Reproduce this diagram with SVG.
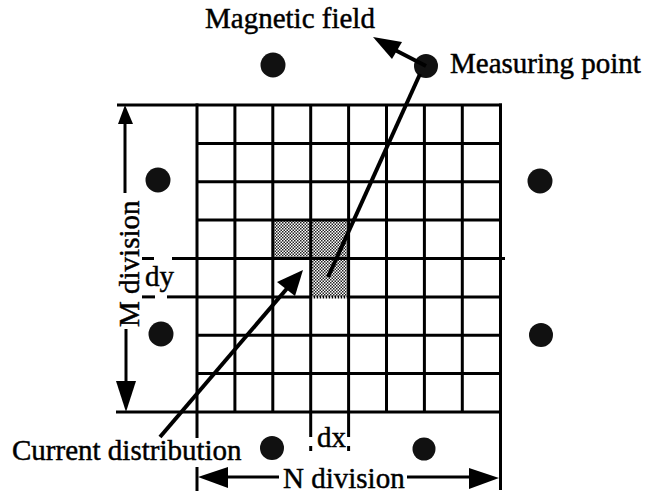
<svg xmlns="http://www.w3.org/2000/svg" width="660" height="494" viewBox="0 0 660 494">
  <style>
    .g { stroke: #000; stroke-width: 3; fill: none; stroke-linecap: butt; }
    .ln { stroke: #000; stroke-width: 3; fill: none; }
    .ar { stroke: #000; stroke-width: 4; fill: none; }
    .dot { fill: #111; }
    .head { fill: #000; }
    .t { font-family: "Liberation Serif", "Times New Roman", serif; font-size: 29px; fill: #000; stroke: #000; stroke-width: 0.45; }
  </style>
  <defs>
    <pattern id="shade" width="3" height="3" patternUnits="userSpaceOnUse">
      <rect width="3" height="3" fill="#fff"/>
      <rect width="1.5" height="1.5" fill="#222"/>
      <rect x="1.5" y="1.5" width="1.5" height="1.5" fill="#222"/>
    </pattern>
  </defs>
  <rect width="660" height="494" fill="#fff"/>

  <g id="grid">
    <rect x="273" y="220" width="37.5" height="38.5" fill="url(#shade)"/>
    <rect x="310.5" y="220" width="38" height="38.5" fill="url(#shade)"/>
    <rect x="310.5" y="258.5" width="38" height="38.5" fill="url(#shade)"/>
    <!-- horizontal lines -->
    <line class="g" x1="117" y1="105" x2="502" y2="105"/>
    <line class="g" x1="197" y1="143.4" x2="501" y2="143.4"/>
    <line class="g" x1="197" y1="181.8" x2="501" y2="181.8"/>
    <line class="g" x1="197" y1="220.1" x2="501" y2="220.1"/>
    <line class="g" x1="197" y1="258.5" x2="505" y2="258.5"/>
    <line class="g" x1="197" y1="296.9" x2="310.7" y2="296.9"/>
    <line class="g" x1="348.6" y1="296.9" x2="501" y2="296.9"/>
    <line x1="310.7" y1="296.9" x2="348.6" y2="296.9" stroke="#000" stroke-width="3" stroke-dasharray="1.5 1.5"/>
    <line class="g" x1="197" y1="335.3" x2="501" y2="335.3"/>
    <line class="g" x1="197" y1="373.6" x2="501" y2="373.6"/>
    <line class="g" x1="116" y1="412" x2="502" y2="412"/>
    <!-- vertical lines -->
    <line class="g" x1="197" y1="103.5" x2="197" y2="438"/>
    <line class="g" x1="234.9" y1="105" x2="234.9" y2="412"/>
    <line class="g" x1="272.8" y1="105" x2="272.8" y2="412"/>
    <line class="g" x1="310.7" y1="105" x2="310.7" y2="437"/>
    <line class="g" x1="348.6" y1="105" x2="348.6" y2="437"/>
    <line class="g" x1="386.5" y1="105" x2="386.5" y2="412"/>
    <line class="g" x1="424.4" y1="105" x2="424.4" y2="412"/>
    <line class="g" x1="462.3" y1="105" x2="462.3" y2="412"/>
    <line class="g" x1="500.5" y1="103.5" x2="500.5" y2="490"/>
    <!-- dx / dy dashed extensions -->
    <line class="g" x1="310.7" y1="446" x2="310.7" y2="451"/>
    <line class="g" x1="348.6" y1="446" x2="348.6" y2="451"/>
    <line class="g" x1="142" y1="258.5" x2="154" y2="258.5"/>
    <line class="g" x1="172" y1="258.5" x2="197" y2="258.5"/>
    <line class="g" x1="142" y1="296.9" x2="155" y2="296.9"/>
    <line class="g" x1="167" y1="296.9" x2="197" y2="296.9"/>
  </g>

  <g id="points">
    <circle id="p-top" class="dot" cx="273" cy="65" r="12.5"/>
    <circle id="measuring-point" class="dot" cx="426" cy="66" r="12"/>
    <circle id="p-left1" class="dot" cx="158" cy="180" r="12.5"/>
    <circle id="p-left2" class="dot" cx="161" cy="334" r="12.5"/>
    <circle id="p-right1" class="dot" cx="540" cy="181" r="12.5"/>
    <circle id="p-right2" class="dot" cx="541" cy="335" r="12"/>
    <circle id="p-bottom1" class="dot" cx="272" cy="448" r="12"/>
    <circle id="p-bottom2" class="dot" cx="424" cy="449" r="11.5"/>
  </g>

  <g id="connectors">
    <!-- magnetic field arrow -->
    <line class="ar" x1="426" y1="66" x2="395" y2="50"/>
    <polygon class="head" points="373,37 402,42 392,59"/>
    <!-- measuring point to source -->
    <line class="ar" x1="420" y1="74" x2="328" y2="277"/>
    <!-- current distribution arrow -->
    <line class="ar" x1="160" y1="437" x2="290" y2="285"/>
    <polygon class="head" points="303,270 295,296 277,282"/>
    <!-- M division dimension -->
    <line class="ln" x1="125" y1="120" x2="125" y2="193"/>
    <line class="ln" x1="126" y1="329" x2="126" y2="385"/>
    <polygon class="head" points="125,105 118,124 133,124"/>
    <polygon class="head" points="126,412 116,381 136,381"/>
    <!-- N division dimension -->
    <line class="ln" x1="197" y1="467" x2="197" y2="491"/>
    <line class="ln" x1="222" y1="477" x2="279" y2="477"/>
    <line class="ln" x1="407" y1="477" x2="475" y2="477"/>
    <polygon class="head" points="198,477 228,467 228,488"/>
    <polygon class="head" points="499,478 469,468 469,489"/>
  </g>

  <g id="labels">
    <text class="t" x="205" y="28">Magnetic field</text>
    <text class="t" x="450" y="73">Measuring point</text>
    <text class="t" x="12" y="460">Current distribution</text>
    <text class="t" x="317" y="447">dx</text>
    <text class="t" x="145" y="286">dy</text>
    <text class="t" x="283" y="488">N division</text>
    <text class="t" transform="translate(139,327) rotate(-90)" x="0" y="0">M division</text>
  </g>
</svg>
